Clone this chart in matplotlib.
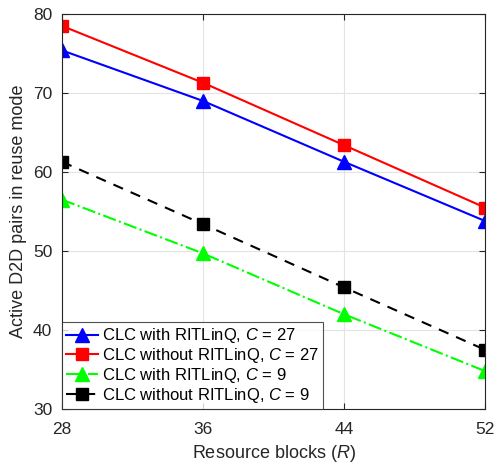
import numpy as np
import matplotlib.pyplot as plt

plt.rcParams['font.family'] = ['Liberation Sans', 'DejaVu Sans']
plt.rcParams['mathtext.fontset'] = 'custom'
plt.rcParams['mathtext.it'] = 'Liberation Sans:italic'

blocks = [28, 36, 44, 52]
with_c27 = [75.4, 69.0, 61.3, 53.8]
without_c27 = [78.5, 71.3, 63.4, 55.5]
with_c9 = [56.5, 49.7, 42.0, 34.8]
without_c9 = [61.3, 53.4, 45.4, 37.5]

fig = plt.figure(figsize=(4.96, 4.68), dpi=100)
ax = fig.add_axes([0.125, 0.126, 0.853, 0.844])

ax.plot(blocks, with_c27, color='blue', lw=1.5, marker='^', ms=10,
        label='CLC with RITLinQ, $C$ = 27')
ax.plot(blocks, without_c27, color='red', lw=1.5, marker='s', ms=8,
        label='CLC without RITLinQ, $C$ = 27')
ax.plot(blocks, with_c9, color='#00ff00', lw=1.5, ls='-.', marker='^', ms=10,
        label='CLC with RITLinQ, $C$ = 9')
ax.plot(blocks, without_c9, color='black', lw=1.5, ls=(0, (5, 4)), marker='s', ms=8,
        label='CLC without RITLinQ, $C$ = 9')

ax.set_xlim(28, 52)
ax.set_ylim(30, 80)
ax.set_xticks(blocks)
ax.set_yticks(np.arange(30, 81, 10))
ax.grid(True, color='#e3e3e3', lw=0.8)
ax.set_axisbelow(True)
ax.tick_params(direction='in', top=True, right=True, labelsize=12.5,
               colors='#262626', length=4)
ax.tick_params(axis='x', pad=9)
ax.tick_params(axis='y', pad=7)
for s in ax.spines.values():
    s.set_color('#262626')
    s.set_linewidth(0.8)

ax.set_xlabel('Resource blocks ($R$)', fontsize=13, color='#262626', labelpad=5)
ax.set_ylabel('Active D2D pairs in reuse mode', fontsize=13, color='#262626')

leg = ax.legend(loc='lower left', fontsize=12, frameon=True, fancybox=False,
                edgecolor='#262626', borderaxespad=0, handlelength=1.9,
                handletextpad=0.25, labelspacing=0.05, borderpad=0.25)
leg.get_frame().set_linewidth(0.8)

fig.savefig('out.png', dpi=100)
